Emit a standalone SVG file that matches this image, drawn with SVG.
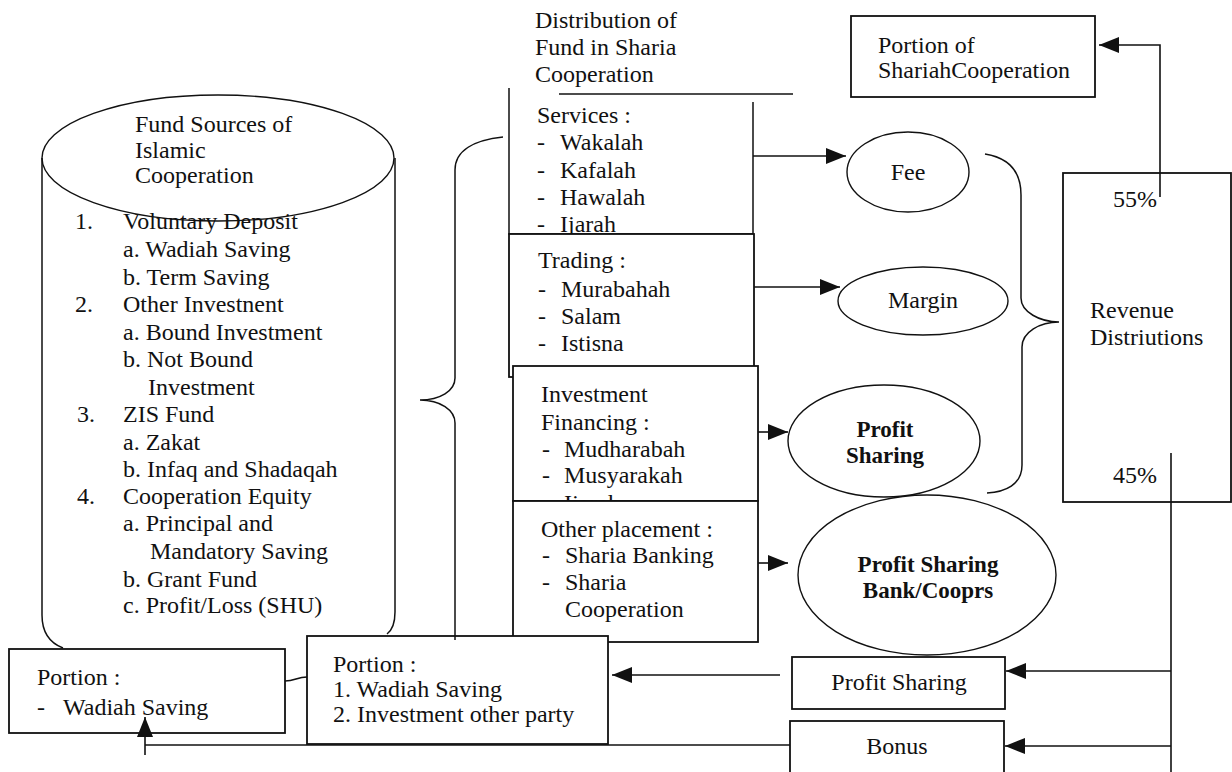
<svg xmlns="http://www.w3.org/2000/svg" width="1232" height="772" viewBox="0 0 1232 772">
<style>
.t{font-family:"Liberation Serif","Times New Roman",serif;font-size:24px;fill:#111}
.c{text-anchor:middle}
.b{font-weight:bold;font-size:23px}
.box{fill:#fff;stroke:#111;stroke-width:1.8}
.ln{fill:none;stroke:#111;stroke-width:1.5}
.el{fill:#fff;stroke:#111;stroke-width:1.4}
.cn{fill:none;stroke:#111;stroke-width:1.6}
</style>
<defs>
<marker id="ah" viewBox="0 0 20 16" refX="20" refY="8" markerWidth="20" markerHeight="16" orient="auto" markerUnits="userSpaceOnUse"><path d="M0,0 L20,8 L0,16 z" fill="#111"/></marker>
</defs>
<rect width="1232" height="772" fill="#fff"/>

<g id="fund-sources">
<path class="ln" d="M42,158 V615 Q42,640 63,648"/>
<path class="ln" d="M395,158 V612 Q395,628 387,634"/>
<ellipse cx="218" cy="158" rx="176" ry="63" fill="none" stroke="#111" stroke-width="1.4"/>
<text class="t" x="135" y="132">Fund Sources of</text>
<text class="t" x="135" y="158">Islamic</text>
<text class="t" x="135" y="183">Cooperation</text>
<text class="t" x="75" y="229">1.</text><text class="t" x="123" y="229">Voluntary Deposit</text>
<text class="t" x="123" y="257">a. Wadiah Saving</text>
<text class="t" x="123" y="285">b. Term Saving</text>
<text class="t" x="75" y="312">2.</text><text class="t" x="123" y="312">Other Investnent</text>
<text class="t" x="123" y="340">a. Bound Investment</text>
<text class="t" x="123" y="367">b. Not Bound</text>
<text class="t" x="148" y="395">Investment</text>
<text class="t" x="77" y="422">3.</text><text class="t" x="123" y="422">ZIS Fund</text>
<text class="t" x="123" y="450">a. Zakat</text>
<text class="t" x="123" y="477">b. Infaq and Shadaqah</text>
<text class="t" x="77" y="504">4.</text><text class="t" x="123" y="504">Cooperation Equity</text>
<text class="t" x="123" y="531">a. Principal and</text>
<text class="t" x="150" y="559">Mandatory Saving</text>
<text class="t" x="123" y="587">b. Grant Fund</text>
<text class="t" x="123" y="613">c. Profit/Loss (SHU)</text>
</g>

<g id="distribution-title">
<text class="t" x="535" y="28">Distribution of</text>
<text class="t" x="535" y="55">Fund in Sharia</text>
<text class="t" x="535" y="82">Cooperation</text>
<path class="ln" d="M559,94 H793"/>
</g>

<g id="services">
<path class="ln" d="M509,88 V234 H753 V102"/>
<text class="t" x="537" y="123">Services :</text>
<text class="t" x="537" y="150">-</text><text class="t" x="560" y="150">Wakalah</text>
<text class="t" x="537" y="178">-</text><text class="t" x="560" y="178">Kafalah</text>
<text class="t" x="537" y="205">-</text><text class="t" x="560" y="205">Hawalah</text>
<text class="t" x="537" y="232">-</text><text class="t" x="560" y="232">Ijarah</text>
</g>

<g id="trading">
<rect class="box" x="509" y="234" width="245" height="143"/>
<text class="t" x="538" y="268">Trading :</text>
<text class="t" x="538" y="297">-</text><text class="t" x="561" y="297">Murabahah</text>
<text class="t" x="538" y="324">-</text><text class="t" x="561" y="324">Salam</text>
<text class="t" x="538" y="351">-</text><text class="t" x="561" y="351">Istisna</text>
</g>

<g id="investment-financing">
<rect class="box" x="513" y="366" width="245" height="135"/>
<text class="t" x="541" y="402">Investment</text>
<text class="t" x="541" y="430">Financing :</text>
<text class="t" x="542" y="457">-</text><text class="t" x="564" y="457">Mudharabah</text>
<text class="t" x="542" y="483">-</text><text class="t" x="564" y="483">Musyarakah</text>
<text class="t" x="542" y="511">-</text><text class="t" x="564" y="511">Ijarah</text>
</g>

<g id="other-placement">
<rect class="box" x="513" y="501" width="245" height="141"/>
<text class="t" x="541" y="537">Other placement :</text>
<text class="t" x="542" y="563">-</text><text class="t" x="565" y="563">Sharia Banking</text>
<text class="t" x="542" y="590">-</text><text class="t" x="565" y="590">Sharia</text>
<text class="t" x="565" y="617">Cooperation</text>
</g>

<g id="fee">
<ellipse class="el" cx="908" cy="172" rx="61" ry="40"/>
<text class="t c" x="908" y="180">Fee</text>
</g>
<g id="margin">
<ellipse class="el" cx="923" cy="301" rx="85" ry="34"/>
<text class="t c" x="923" y="308">Margin</text>
</g>
<g id="profit-sharing-ellipse">
<ellipse class="el" cx="884" cy="441" rx="96" ry="56"/>
<text class="t c b" x="885" y="437">Profit</text>
<text class="t c b" x="885" y="463">Sharing</text>
</g>
<g id="profit-sharing-bank">
<ellipse class="el" cx="927" cy="575" rx="129" ry="80"/>
<text class="t c b" x="928" y="572">Profit Sharing</text>
<text class="t c b" x="928" y="598">Bank/Cooprs</text>
</g>

<g id="portion-shariah">
<rect class="box" x="851" y="16" width="244" height="81"/>
<text class="t" x="878" y="53">Portion of</text>
<text class="t" x="878" y="78">ShariahCooperation</text>
</g>

<g id="revenue">
<rect class="box" x="1063" y="173" width="168" height="329"/>
<text class="t" x="1113" y="207">55%</text>
<text class="t" x="1090" y="318">Revenue</text>
<text class="t" x="1090" y="345">Distriutions</text>
<text class="t" x="1113" y="483">45%</text>
</g>

<g id="profit-sharing-box">
<rect class="box" x="792" y="657" width="213" height="52"/>
<text class="t c" x="899" y="690">Profit Sharing</text>
</g>
<g id="bonus">
<rect class="box" x="790" y="721" width="214" height="60"/>
<text class="t c" x="897" y="754">Bonus</text>
</g>

<g id="portion-middle">
<rect class="box" x="307" y="636" width="301" height="108"/>
<text class="t" x="333" y="672">Portion :</text>
<text class="t" x="333" y="697">1. Wadiah Saving</text>
<text class="t" x="333" y="722">2. Investment other party</text>
</g>

<g id="portion-left">
<rect class="box" x="9" y="649" width="276" height="84"/>
<text class="t" x="37" y="685">Portion :</text>
<text class="t" x="37" y="715">-</text><text class="t" x="63" y="715">Wadiah Saving</text>
</g>

<g id="connectors">
<path class="ln" d="M503,137 C475,140 455,150 455,170 V378 C455,391 440,400 420,400 C440,400 455,410 455,423 V640"/>
<path class="ln" d="M985,154 C1010,158 1021,172 1021,195 V298 C1021,312 1040,322 1059,322 C1040,322 1022,332 1022,347 V465 C1022,485 1005,492 987,493"/>
<path class="cn" d="M753,156 H846" marker-end="url(#ah)"/>
<path class="cn" d="M754,287 H840" marker-end="url(#ah)"/>
<path class="cn" d="M758,432 H788" marker-end="url(#ah)"/>
<path class="cn" d="M758,563 H788" marker-end="url(#ah)"/>
<path class="cn" d="M1160,197 V45 H1099" marker-end="url(#ah)"/>
<path class="cn" d="M1171,453 V772"/>
<path class="cn" d="M1171,671 H1006" marker-end="url(#ah)"/>
<path class="cn" d="M1171,746 H1005" marker-end="url(#ah)"/>
<path class="cn" d="M780,675 H612" marker-end="url(#ah)"/>
<path class="cn" d="M790,745 H145"/>
<path class="cn" d="M145,755 V717" marker-end="url(#ah)"/>
<path class="cn" d="M285,681 C295,681 297,677 307,677"/>
</g>
</svg>
